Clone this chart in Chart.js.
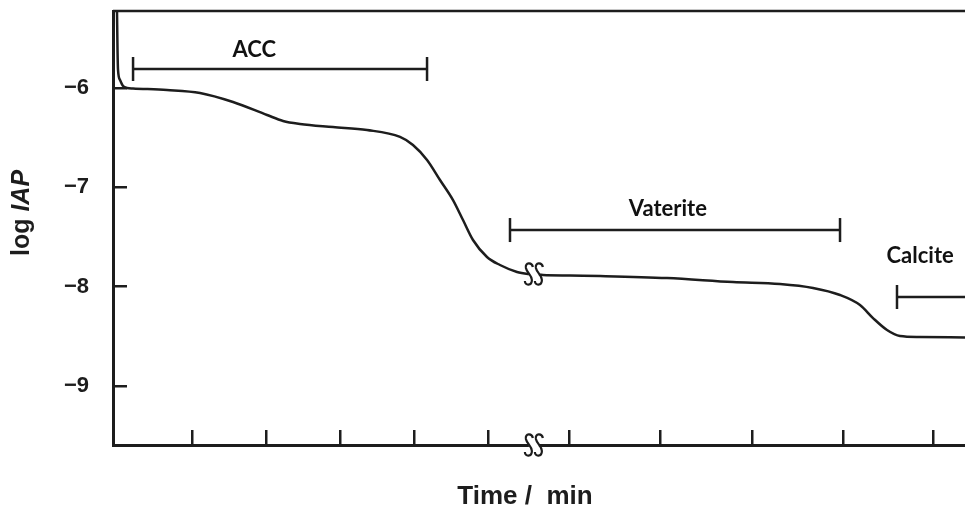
<!DOCTYPE html>
<html lang="en">
<head>
<meta charset="UTF-8">
<title>log IAP vs time</title>
<script src="https://cdn.jsdelivr.net/npm/chart.js"></script>
<style>
    html, body { margin: 0; padding: 0; background: #fff; overflow: hidden; }
    #wrap { width: 965px; height: 509px; }
    #iapChart { display: block; }
</style>
</head>
<body>
<div id="wrap"><canvas id="iapChart" width="965" height="509"></canvas></div>
<script>
// curve (time in arbitrary axis units, broken axis near 5.6)
const curveX = [-0.014, -0.007, 0, 0.027, 0.068, 0.122, 0.203, 0.662, 1.108, 1.554, 2.014, 2.23, 2.459, 2.905,
    3.365, 3.811, 3.986, 4.176, 4.351, 4.527, 4.662, 4.797, 4.986, 5.162, 5.392, 5.541, 5.743, 6.108, 6.514,
    7.419, 8.311, 8.946, 9.392, 9.757, 10.027, 10.203, 10.392, 10.568, 10.838, 11.446];
const curveY = [-5.225, -5.617, -5.819, -5.919, -5.98, -6.0, -6.005, -6.02, -6.05, -6.141, -6.272, -6.332, -6.362, -6.393,
    -6.423, -6.493, -6.574, -6.725, -6.926, -7.128, -7.329, -7.53, -7.701, -7.782, -7.852, -7.872, -7.882, -7.888, -7.893,
    -7.913, -7.953, -7.973, -8.013, -8.084, -8.185, -8.316, -8.436, -8.497, -8.507, -8.512];

const xTicks = [1, 2, 3, 4, 5, 6.1, 7.33, 8.57, 9.8, 11.02];
const yTicks = [-6, -7, -8, -9];

// phase ranges (ACC, vaterite, calcite)
const phaseNames = ['ACC', 'Vaterite', 'Calcite'];
const phaseStart = [0.203, 5.297, 10.527];
const phaseEnd = [4.176, 9.757, 11.8];
const phaseLevel = [-5.809, -7.43, -8.104];
const phaseLabelX = [1.84, 7.43, 10.84];
const phaseLabelY = [-5.617, -7.218, -7.691];

const breakX = 5.62;
const breakY = -7.872;

const ink = '#1d1d1d';

// two small S marks over a white gap
function drawBreak(ctx, cx, cy) {
    ctx.save();
    ctx.fillStyle = '#fff';
    ctx.fillRect(cx - 5, cy - 4, 10, 8);
    ctx.strokeStyle = ink;
    ctx.lineWidth = 2.2;
    [-5, 5].forEach(dx => {
        const x = cx + dx;
        ctx.beginPath();
        ctx.moveTo(x + 4, cy - 7);
        ctx.bezierCurveTo(x + 3, cy - 12, x - 4, cy - 12, x - 3, cy - 6);
        ctx.bezierCurveTo(x - 2, cy - 1, x + 3, cy + 1, x + 3, cy + 6);
        ctx.bezierCurveTo(x + 3, cy + 12, x - 4, cy + 12, x - 4, cy + 7);
        ctx.stroke();
    });
    ctx.restore();
}

const extras = {
    id: 'extras',
    afterDraw(chart) {
        const ctx = chart.ctx;
        const area = chart.chartArea;
        const xs = chart.scales.x, ys = chart.scales.y;

        // top frame line
        ctx.save();
        ctx.strokeStyle = ink;
        ctx.lineWidth = 2.5;
        ctx.beginPath();
        ctx.moveTo(area.left, area.top);
        ctx.lineTo(area.right, area.top);
        ctx.stroke();

        // phase names
        ctx.fillStyle = '#111';
        ctx.font = 'bold 22px Lato, sans-serif';
        ctx.textAlign = 'center';
        ctx.textBaseline = 'middle';
        phaseNames.forEach((n, i) => {
            ctx.fillText(n, xs.getPixelForValue(phaseLabelX[i]), ys.getPixelForValue(phaseLabelY[i]));
        });

        // x title
        ctx.fillStyle = ink;
        ctx.font = 'bold 26px "Liberation Sans", Arial, sans-serif';
        ctx.fillText('Time /  min', 525, 497);

        // y title, "IAP" in italics
        ctx.translate(22, 213);
        ctx.rotate(-Math.PI / 2);
        const f1 = 'bold 25px "Liberation Sans", Arial, sans-serif';
        const f2 = 'italic bold 25px "Liberation Sans", Arial, sans-serif';
        ctx.font = f1;
        const w1 = ctx.measureText('log ').width;
        ctx.font = f2;
        const w2 = ctx.measureText('IAP').width;
        ctx.textAlign = 'left';
        ctx.font = f1;
        ctx.fillText('log ', -(w1 + w2) / 2, 0);
        ctx.font = f2;
        ctx.fillText('IAP', -(w1 + w2) / 2 + w1, 0);
        ctx.restore();

        // axis breaks
        drawBreak(ctx, xs.getPixelForValue(breakX), area.bottom);
        drawBreak(ctx, xs.getPixelForValue(breakX), ys.getPixelForValue(breakY));
    }
};

const datasets = [{
    data: curveX.map((x, i) => ({ x, y: curveY[i] })),
    borderColor: ink,
    borderWidth: 2.5,
    pointRadius: 0,
    cubicInterpolationMode: 'monotone',
    fill: false
}];
phaseNames.forEach((n, i) => {
    datasets.push({
        data: [{ x: phaseStart[i], y: phaseLevel[i] }, { x: phaseEnd[i], y: phaseLevel[i] }],
        borderColor: ink,
        borderWidth: 2.5,
        pointStyle: 'line',
        rotation: 90,
        pointRadius: 12,
        pointBorderWidth: 2.5,
        pointBorderColor: ink,
        fill: false
    });
});

new Chart(document.getElementById('iapChart'), {
    type: 'line',
    data: { datasets },
    options: {
        responsive: false,
        animation: false,
        layout: { autoPadding: false, padding: { top: 11, right: 0, left: 0, bottom: 0 } },
        plugins: { legend: { display: false }, tooltip: { enabled: false } },
        scales: {
            x: {
                type: 'linear',
                min: -0.068,
                max: 11.446,
                afterBuildTicks: s => { s.ticks = xTicks.map(v => ({ value: v })); },
                afterFit: s => { s.height = 64; s.paddingLeft = 0; s.paddingRight = 0; },
                ticks: { display: false, autoSkip: false },
                grid: { drawOnChartArea: false, tickLength: -15, color: ink, lineWidth: 2.5 },
                border: { color: ink, width: 3 }
            },
            y: {
                min: -9.594,
                max: -5.225,
                afterBuildTicks: s => { s.ticks = yTicks.map(v => ({ value: v })); },
                afterFit: s => { s.width = 113; s.paddingTop = 0; s.paddingBottom = 0; },
                ticks: {
                    padding: 38,
                    color: ink,
                    font: { family: '"Liberation Sans", Arial, sans-serif', size: 22, weight: 'bold' },
                    callback: v => '\u2212' + Math.abs(v)
                },
                grid: { drawOnChartArea: false, tickLength: -14, color: ink, lineWidth: 2.5 },
                border: { color: ink, width: 3 }
            }
        }
    },
    plugins: [extras]
});
</script>
</body>
</html>
